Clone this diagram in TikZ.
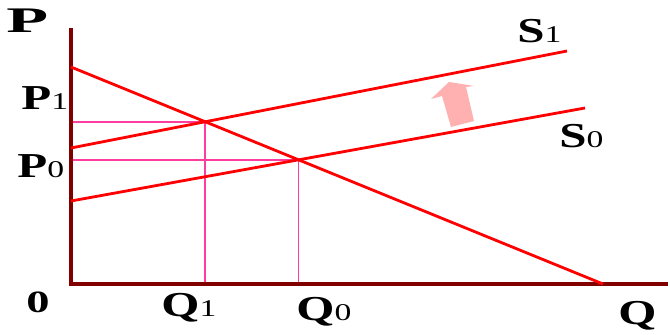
\documentclass[tikz,border=0pt]{standalone}
\usepackage{fontspec}
\setmainfont{Liberation Serif}
\usetikzlibrary{calc}

\definecolor{axisred}{RGB}{128,0,0}
\definecolor{guidepink}{RGB}{255,60,160}
\definecolor{arrowpink}{RGB}{255,176,176}
\newcommand{\qlabel}[2]{\scalebox{1.4}[1]{{\fontsize{35}{35}\selectfont\bfseries #1}{\fontsize{24}{24}\selectfont #2}}}

\begin{document}
\begin{tikzpicture}[x=1pt, y=1pt, thick,
    axis/.style={draw=axisred, line width=3.8pt, line join=miter},
    curve/.style={draw=red, line width=2.8pt},
    guide/.style={draw=guidepink, line width=1.6pt},
    lbl/.style={anchor=base west, inner sep=0pt}]
  \useasboundingbox (0,0) rectangle (670,335);
  \coordinate (O) at (71,51);
  \coordinate (Ptop) at (71,307);
  \coordinate (Qend) at (668,51);
  \coordinate (D1) at (71,268);
  \coordinate (D2) at (603,51);
  \coordinate (A0) at (71,134);
  \coordinate (B0) at (585,227);
  \coordinate (A1) at (71,187);
  \coordinate (B1) at (567,284);
  \coordinate (E0) at (intersection of D1--D2 and A0--B0);
  \coordinate (E1) at (intersection of D1--D2 and A1--B1);
  % guide lines
  \draw[guide] (O |- E1) -- (E1) -- (E1 |- O);
  \draw[guide] (O |- E0) -- (E0) -- (E0 |- O);
  % axes
  \draw[axis] (Ptop) -- (O) -- (Qend);
  % demand and supply
  \draw[curve] (D1) -- (D2);
  \draw[curve] (A0) -- (B0);
  \draw[curve] (A1) -- (B1);
  % shift arrow
  \fill[arrowpink] (449,253) -- (474,249) -- (466,248) -- (474,214)
    -- (451,208) -- (442,239) -- (431,236) -- cycle;
  % labels
  \node[lbl] (lP) at (6,302) {\scalebox{1.9}[1]{\fontsize{36}{36}\selectfont\bfseries P}};
  \node[lbl] (lP1) at (21,225) {\qlabel{P}{1}};
  \node[lbl] (lP0) at (17,157) {\qlabel{P}{0}};
  \node[lbl] (lO) at (26,22) {\scalebox{1.5}[1]{\fontsize{31}{31}\selectfont\bfseries 0}};
  \node[lbl] (lQ1) at (161,19) {\qlabel{Q}{1}};
  \node[lbl] (lQ0) at (296,14) {\qlabel{Q}{0}};
  \node[lbl] (lQ) at (618,10) {\scalebox{1.4}[1]{\fontsize{35}{35}\selectfont\bfseries Q}};
  \node[lbl] (lS1) at (517,292) {\qlabel{S}{1}};
  \node[lbl] (lS0) at (559,187) {\qlabel{S}{0}};
\end{tikzpicture}
\end{document}
